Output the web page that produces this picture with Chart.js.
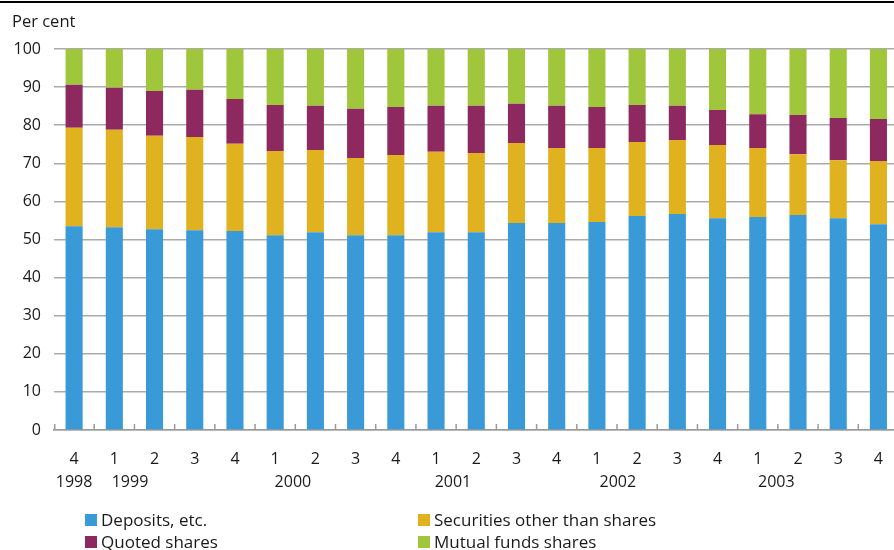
<!DOCTYPE html>
<html>
<head>
<meta charset="utf-8">
<script src="https://cdn.jsdelivr.net/npm/chart.js@4.4.1/dist/chart.umd.min.js"></script>
<style>
  html, body { margin:0; padding:0; background:#fff; overflow:hidden; }
  #wrap { position:relative; width:894px; height:550px; overflow:hidden; font-family:"Open Sans", sans-serif; color:#1a1a1a; }
  #topline { position:absolute; left:0; top:1px; width:894px; height:2px; background:#000; }
  #unit { position:absolute; left:12px; top:9px; font-size:16.5px; }
  #legend { position:absolute; left:0; top:0; width:894px; height:550px; pointer-events:none; }
  .li { position:absolute; font-size:17px; line-height:20px; white-space:nowrap; }
  .sw { position:absolute; width:12px; height:12px; }
  canvas { position:absolute; left:0; top:0; }
</style>
</head>
<body>
<div id="wrap">
  <canvas id="c" width="903" height="550"></canvas>
  <div id="topline"></div>
  <div id="unit">Per cent</div>
  <div id="legend"></div>
</div>
<script>
const quarters = ['4','1','2','3','4','1','2','3','4','1','2','3','4','1','2','3','4','1','2','3','4'];
const yearLabels = ['1998','1999','2000','2001','2002','2003'];
const yearAnchors = [0, 1.39, 5.44, 9.42, 13.52, 17.46];
const seriesNames = ['Deposits, etc.','Securities other than shares','Quoted shares','Mutual funds shares'];
const seriesColors = ['#3a9ad8','#e1b21f','#8e2960','#a0c73b'];
const deposits   = [53.5,53.2,52.7,52.4,52.2,51.1,51.9,51.1,51.1,51.9,51.9,54.3,54.3,54.6,56.2,56.7,55.6,55.9,56.4,55.6,54.0];
const securities = [25.8,25.6,24.5,24.5,22.9,22.1,21.6,20.3,21.1,21.1,20.8,21.0,19.7,19.4,19.4,19.4,19.2,18.1,16.0,15.2,16.6];
const quoted     = [11.3,11.0,11.8,12.4,11.8,12.1,11.6,12.9,12.6,12.1,12.4,10.3,11.1,10.8,9.7,9.0,9.2,8.9,10.3,11.1,11.0];
const mutual     = [9.4,10.2,11.0,10.7,13.1,14.7,14.9,15.7,15.2,14.9,14.9,14.4,14.9,15.2,14.7,14.9,16.0,17.1,17.3,18.1,18.4];
const yTicks = [0,10,20,30,40,50,60,70,80,90,100];

const seriesData = [deposits, securities, quoted, mutual];
const FONT = '"Open Sans", sans-serif';

const innerTicks = {
  id:'innerTicks',
  afterDatasetsDraw(chart){
    const x = chart.scales.x, ca = chart.chartArea, ctx = chart.ctx;
    ctx.save();
    ctx.strokeStyle = '#9a9a9a';
    ctx.lineWidth = 1.5;
    for (let i = 0; i <= quarters.length; i++) {
      let px;
      if (i === 0) px = ca.left + 0.75;
      else if (i === quarters.length) px = ca.right;
      else px = (x.getPixelForValue(i-1) + x.getPixelForValue(i)) / 2;
      ctx.beginPath();
      ctx.moveTo(px, ca.bottom);
      ctx.lineTo(px, ca.bottom - 6);
      ctx.stroke();
    }
    ctx.fillStyle = '#1a1a1a';
    ctx.font = '16px ' + FONT;
    ctx.textAlign = 'center';
    ctx.textBaseline = 'middle';
    yearLabels.forEach((lab, k) => {
      const a = yearAnchors[k];
      const i0 = Math.floor(a), f = a - i0;
      const p0 = x.getPixelForValue(i0);
      const p1 = i0 + 1 < quarters.length ? x.getPixelForValue(i0 + 1) : p0;
      ctx.fillText(lab, p0 + (p1 - p0) * f, 482);
    });
    ctx.restore();
  }
};

new Chart(document.getElementById('c'), {
  type:'bar',
  data:{
    labels: quarters,
    datasets: seriesData.map((d, i) => ({
      label: seriesNames[i],
      data: d,
      backgroundColor: seriesColors[i],
      borderWidth: 0,
      categoryPercentage: 1,
      barPercentage: 0.425
    }))
  },
  options:{
    responsive:false,
    animation:false,
    devicePixelRatio:1,
    layout:{ padding:{ top:49, right:0, bottom:0, left:0 } },
    plugins:{ legend:{ display:false }, tooltip:{ enabled:false } },
    scales:{
      x:{
        stacked:true,
        offset:true,
        grid:{ display:false, drawTicks:false },
        border:{ display:true, color:'#9a9a9a', width:1.5 },
        ticks:{ color:'#1a1a1a', font:{ family:FONT, size:16 }, padding:20, maxRotation:0, autoSkip:false },
        afterFit(s){ s.height = 120; }
      },
      y:{
        stacked:true,
        min:0, max:100,
        afterBuildTicks(s){ s.ticks = yTicks.map(v => ({ value:v })); },
        grid:{ color:'#ababab', lineWidth:1.5, drawTicks:false },
        border:{ display:false },
        ticks:{ color:'#1a1a1a', font:{ family:FONT, size:16 }, padding:13 },
        afterFit(s){ s.width = 54; }
      }
    }
  },
  plugins:[innerTicks]
});

const legend = document.getElementById('legend');
const pos = [[85,514],[418,514],[85,536],[418,536]];
seriesNames.forEach((n, i) => {
  const sw = document.createElement('div');
  sw.className = 'sw';
  sw.style.background = seriesColors[i];
  sw.style.left = pos[i][0] + 'px';
  sw.style.top = pos[i][1] + 'px';
  legend.appendChild(sw);
  const t = document.createElement('div');
  t.className = 'li';
  t.textContent = n;
  t.style.left = (pos[i][0] + 16) + 'px';
  t.style.top = (pos[i][1] - 4) + 'px';
  legend.appendChild(t);
});
</script>
</body>
</html>
